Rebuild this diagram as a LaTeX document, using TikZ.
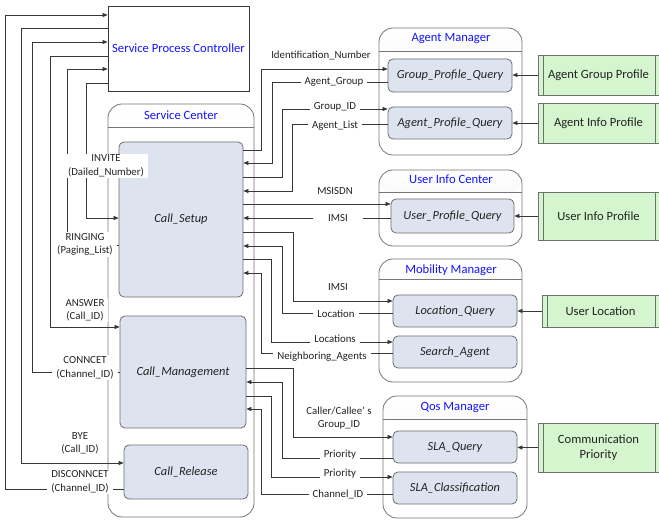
\documentclass[tikz,border=0pt]{standalone}
\usepackage{fontspec}
\setmainfont{Carlito}
\usetikzlibrary{arrows.meta}
\definecolor{titleblue}{RGB}{20,20,255}
\definecolor{boxfill}{RGB}{221,228,240}
\definecolor{boxc}{RGB}{110,110,110}
\definecolor{contc}{RGB}{118,118,118}
\definecolor{hdrc}{RGB}{232,235,240}
\definecolor{greenfill}{RGB}{212,245,205}
\definecolor{greenc}{RGB}{105,115,105}
\definecolor{wirec}{RGB}{55,55,55}
\definecolor{txt}{RGB}{35,35,35}
\begin{document}
\begin{tikzpicture}[x=1pt,y=-1pt,
  wire/.style={draw=wirec, line width=0.7pt},
  arr/.style={wire, -{Triangle[length=5pt,width=4pt]}},
  container/.style={draw=contc, line width=0.8pt, rounded corners=14pt, fill=white, inner sep=0pt},
  hdr/.style={path picture={\shade[top color=white,bottom color=hdrc]
      (path picture bounding box.north west) rectangle ([yshift=-#1]path picture bounding box.north east);}},
  hdrline/.style={draw=contc, line width=0.8pt},
  hdrtitle/.style={text=titleblue, font=\fontsize{12.6}{15}\selectfont, inner sep=1pt},
  qbox/.style={draw=boxc, line width=0.8pt, fill=boxfill, rounded corners=5pt, inner sep=0pt,
      text=txt, font=\fontsize{12.4}{14}\selectfont\itshape},
  gbox/.style={draw=greenc, fill=greenfill, line width=0.8pt, inner sep=0pt, align=center,
      text=txt, font=\fontsize{12.6}{15.5}\selectfont},
  gline/.style={draw=greenc, line width=0.8pt},
  lbl/.style={font=\fontsize{10.8}{13.5}\selectfont, text=txt, inner xsep=4pt, inner ysep=1pt, align=center},
  lblw/.style={lbl, fill=white}]
\useasboundingbox (0,0) rectangle (659,521);

% ---------- controller ----------
\node[draw=wirec, line width=0.8pt, fill=white, minimum width=141pt, minimum height=85pt,
      text=titleblue, font=\fontsize{12.6}{15}\selectfont] (spc) at (178.5,48.5) {Service Process Controller};

% ---------- service center ----------
\node[container, hdr=24pt, minimum width=146pt, minimum height=413pt] (sc) at (181,310.5) {};
\draw[hdrline] ([yshift=-24pt]sc.north west) -- ([yshift=-24pt]sc.north east);
\node[hdrtitle] (sct) at (181,115) {Service Center};
\node[qbox, minimum width=124pt, minimum height=155pt] (cs) at (181,219.5) {Call\_Setup};
\node[qbox, minimum width=126pt, minimum height=112pt] (cm) at (183,372) {Call\_Management};
\node[qbox, minimum width=124pt, minimum height=54pt] (cr) at (186,472) {Call\_Release};

% ---------- agent manager ----------
\node[container, hdr=24pt, minimum width=143pt, minimum height=127pt] (am) at (450.5,91.5) {};
\draw[hdrline] ([yshift=-24pt]am.north west) -- ([yshift=-24pt]am.north east);
\node[hdrtitle] (amt) at (451,39) {Agent Manager};
\node[qbox, minimum width=124pt, minimum height=33pt] (gpq) at (450,75.5) {Group\_Profile\_Query};
\node[qbox, minimum width=124pt, minimum height=32pt] (apq) at (450,123) {Agent\_Profile\_Query};

% ---------- user info center ----------
\node[container, hdr=23pt, minimum width=143pt, minimum height=76pt] (uic) at (450.5,208) {};
\draw[hdrline] ([yshift=-23pt]uic.north west) -- ([yshift=-23pt]uic.north east);
\node[hdrtitle] (uict) at (451,179) {User Info Center};
\node[qbox, minimum width=123pt, minimum height=34pt] (upq) at (452.5,216) {User\_Profile\_Query};

% ---------- mobility manager ----------
\node[container, hdr=21pt, minimum width=143pt, minimum height=123pt] (mm) at (450.5,320.5) {};
\draw[hdrline] ([yshift=-21pt]mm.north west) -- ([yshift=-21pt]mm.north east);
\node[hdrtitle] (mmt) at (451,270) {Mobility Manager};
\node[qbox, minimum width=124pt, minimum height=32pt] (lq) at (455,311) {Location\_Query};
\node[qbox, minimum width=124pt, minimum height=32pt] (sa) at (455,352) {Search\_Agent};

% ---------- qos manager ----------
\node[container, hdr=24pt, minimum width=144pt, minimum height=122pt] (qm) at (455,457) {};
\draw[hdrline] ([yshift=-24pt]qm.north west) -- ([yshift=-24pt]qm.north east);
\node[hdrtitle] (qmt) at (455,407) {Qos Manager};
\node[qbox, minimum width=124pt, minimum height=32pt] (slaq) at (455,447) {SLA\_Query};
\node[qbox, minimum width=124pt, minimum height=32pt] (slac) at (455,488) {SLA\_Classification};

% ---------- data stores ----------
\node[gbox, minimum width=121pt, minimum height=40pt] (agp) at (598.5,75) {Agent Group Profile};
\node[gbox, minimum width=121pt, minimum height=40pt] (aip) at (598.5,123) {Agent Info Profile};
\node[gbox, minimum width=121pt, minimum height=48pt] (uip) at (598.5,216) {User Info Profile};
\node[gbox, minimum width=117pt, minimum height=32pt] (ul) at (600.5,311) {User Location};
\node[gbox, minimum width=121pt, minimum height=49pt] (cp) at (598.5,447.5) {Communication\\Priority};
\foreach \s in {agp,aip,uip,ul,cp}{
  \draw[gline] ([xshift=6pt]\s.north west) -- ([xshift=6pt]\s.south west);
  \draw[gline] ([xshift=-4pt]\s.north east) -- ([xshift=-4pt]\s.south east);
}
\draw[arr] (agp.west) -- (agp.west -| gpq.east);
\draw[arr] (aip.west) -- (aip.west -| apq.east);
\draw[arr] (uip.west) -- (uip.west -| upq.east);
\draw[arr] (ul.west) -- (ul.west -| lq.east);
\draw[arr] (cp.west) -- (cp.west -| slaq.east);

% ---------- controller signalling ----------
\draw[arr] (cr.west |- 0,489) -- (5,489) |- (spc.west |- 0,15);
\draw[arr] (spc.west |- 0,28) -- (21,28) |- (cr.west |- 0,463);
\draw[arr] (cm.west |- 0,372) -- (32,372) |- (spc.west |- 0,42);
\draw[arr] (spc.west |- 0,56) -- (50,56) |- (cm.west |- 0,327);
\draw[arr] (cs.west |- 0,245) -- (67,245) |- (spc.west |- 0,69);
\draw[arr] (spc.west |- 0,83) -- (86,83) |- (cs.west |- 0,218);

% ---------- call setup queries ----------
\draw[arr] (cs.east |- 0,150) -- (261,150) |- (gpq.west |- 0,69);
\draw[arr] (gpq.west |- 0,82) -- (272,82) |- (cs.east |- 0,163);
\draw[arr] (cs.east |- 0,177) -- (282,177) |- (apq.west |- 0,109);
\draw[arr] (apq.west |- 0,124) -- (292,124) |- (cs.east |- 0,191);
\draw[arr] (cs.east |- 0,204) -- (upq.west |- 0,204);
\draw[arr] (upq.west |- 0,218) -- (cs.east |- 0,218);
\draw[arr] (cs.east |- 0,232) -- (293,232) |- (lq.west |- 0,301);
\draw[arr] (lq.west |- 0,313) -- (282,313) |- (cs.east |- 0,246);
\draw[arr] (cs.east |- 0,259) -- (271,259) |- (sa.west |- 0,342);
\draw[arr] (sa.west |- 0,353) -- (261,353) |- (cs.east |- 0,273);

% ---------- call management queries ----------
\draw[arr] (cm.east |- 0,368) -- (293,368) |- (slaq.west |- 0,437);
\draw[arr] (slaq.west |- 0,458) -- (282,458) |- (cm.east |- 0,382);
\draw[arr] (cm.east |- 0,396) -- (271,396) |- (slac.west |- 0,477);
\draw[arr] (slac.west |- 0,494) -- (261,494) |- (cm.east |- 0,409);

% ---------- labels ----------
\node[lblw] (linv) at (106,166) {INVITE\\(Dailed\_Number)};
\node[lblw] (lring) at (85,244.5) {RINGING\\(Paging\_List)};
\node[lblw] (lans) at (85,310) {ANSWER\\(Call\_ID)};
\node[lblw] (lcon) at (85,367.5) {CONNCET\\(Channel\_ID)};
\node[lblw] (lbye) at (80,443.5) {BYE\\(Call\_ID)};
\node[lblw] (ldis) at (80,481.5) {DISCONNCET\\(Channel\_ID)};

\node[lbl] (lid) at (321,55) {Identification\_Number};
\node[lblw] (lag) at (334,82) {Agent\_Group};
\node[lblw] (lgid) at (335,107) {Group\_ID};
\node[lblw] (lal) at (335,126) {Agent\_List};
\node[lbl] (lmsisdn) at (335,191) {MSISDN};
\node[lblw, inner xsep=15pt] (limsi1) at (338,218) {IMSI};
\node[lbl] (limsi2) at (338,287) {IMSI};
\node[lblw] (lloc) at (336,314) {Location};
\node[lblw] (llocs) at (335,339) {Locations};
\node[lblw] (lnb) at (322,357) {Neighboring\_Agents};
\node[lbl] (lcc) at (339,418) {Caller/Callee’ s\\Group\_ID};
\node[lblw] (lpr1) at (340,455) {Priority};
\node[lblw] (lpr2) at (340,474) {Priority};
\node[lblw] (lch) at (338,494) {Channel\_ID};
\end{tikzpicture}
\end{document}
